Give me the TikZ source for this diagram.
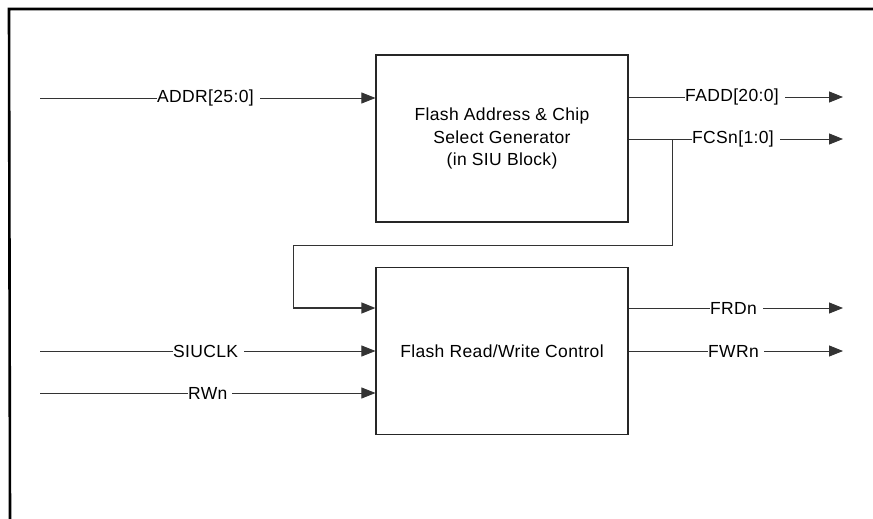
\documentclass[tikz,border=0pt]{standalone}
\usepackage{fontspec}
\setmainfont{Liberation Sans}[LetterSpace=2]
\usetikzlibrary{arrows.meta}
\begin{document}
\begin{tikzpicture}[x=1pt,y=-1pt,
  font=\fontsize{17.5}{22.5}\selectfont,
  blk/.style={draw=black!85,line width=1.2pt,minimum width=252pt,minimum height=167pt,inner sep=0pt,align=center},
  sig/.style={draw=black!80,line width=0.8pt},
  arr/.style={sig,-{Triangle[length=14pt,width=11pt]}},
  lbl/.style={fill=white,inner xsep=0pt,inner ysep=1pt,anchor=west},
  frame/.style={draw=black,line width=2.6pt}]
\useasboundingbox (0,0) rectangle (873,519);
% frame
\coordinate (fa) at (9,9);
\coordinate (fb) at (873,9);
\coordinate (fc) at (10,519);
\draw[frame] (fb) -- (fa) -- (fc);
% blocks
\node[blk] (gen) at (502,138.5) {Flash Address \& Chip\\Select Generator\\(in SIU Block)};
\node[blk] (ctl) at (502,351) {Flash Read/Write Control};
% inputs
\coordinate (iaddr) at (40,98);
\coordinate (iclk) at (40,351);
\coordinate (irw) at (40,393);
\draw[arr] (iaddr) -- (iaddr -| gen.west);
\draw[arr] (iclk) -- (iclk -| ctl.west);
\draw[arr] (irw) -- (irw -| ctl.west);
\node[lbl] (laddr) at (157,98) {ADDR[25:0]\hspace*{6pt}};
\node[lbl] (lclk) at (173,351) {SIUCLK\hspace*{6pt}};
\node[lbl] (lrw) at (188,393) {RWn\hspace*{5pt}};
% outputs
\coordinate (ofadd) at (843,97);
\coordinate (ofcs) at (843,139);
\coordinate (ofrd) at (843,308);
\coordinate (ofwr) at (843,351);
\draw[arr] (ofadd -| gen.east) -- (ofadd);
\draw[arr] (ofcs -| gen.east) -- (ofcs);
\draw[arr] (ofrd -| ctl.east) -- (ofrd);
\draw[arr] (ofwr -| ctl.east) -- (ofwr);
\node[lbl] (lfadd) at (685,97) {FADD[20:0]\hspace*{6pt}};
\node[lbl] (lfcs) at (692,139) {FCSn[1:0]\hspace*{6pt}};
\node[lbl] (lfrd) at (710,308) {FRDn\hspace*{6pt}};
\node[lbl] (lfwr) at (708,351) {FWRn\hspace*{5pt}};
% FCSn feedback
\coordinate (b1) at (672,139);
\coordinate (b2) at (672,245);
\coordinate (b3) at (293,245);
\coordinate (b4) at (293,308);
\draw[sig] (b1) -- (b2) -- (b3) -- (b4);
\draw[arr,line width=1.4pt] (b4) -- (b4 -| ctl.west);
\end{tikzpicture}
\end{document}
